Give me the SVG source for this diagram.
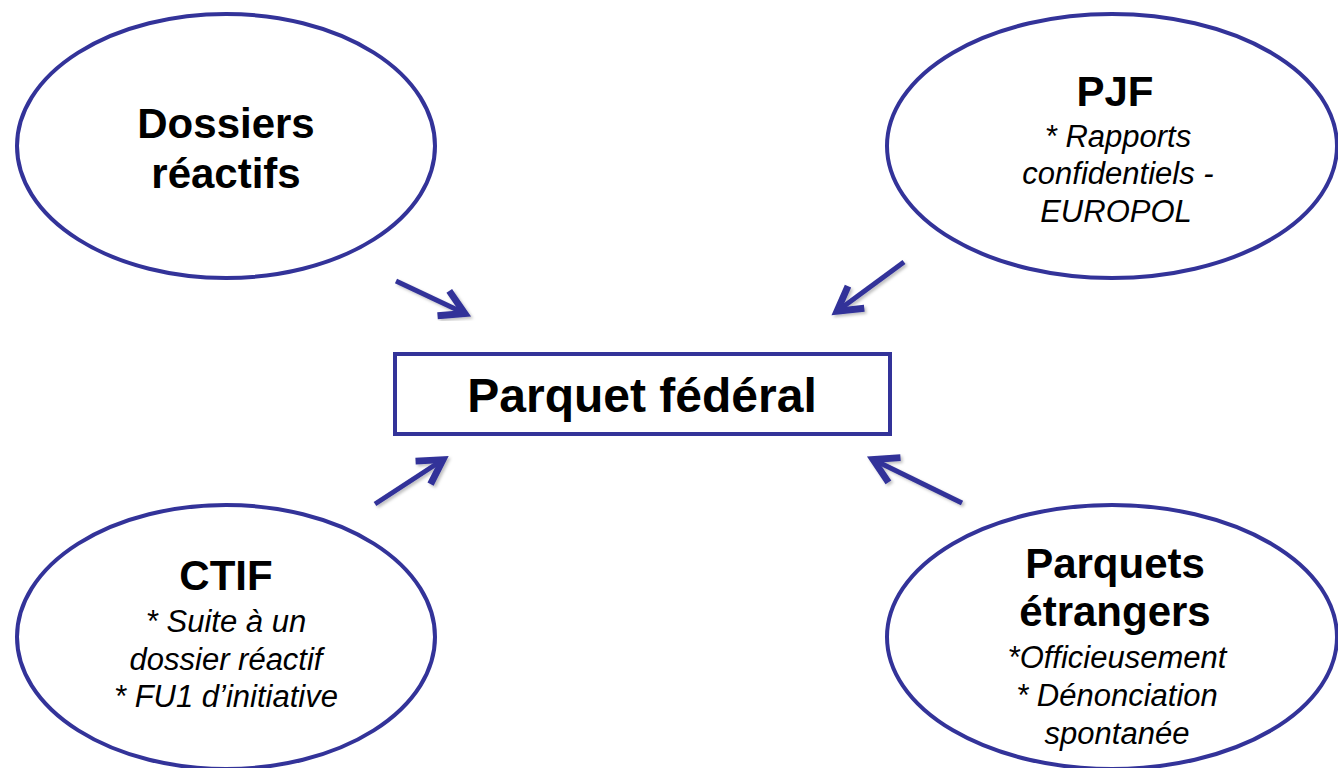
<svg xmlns="http://www.w3.org/2000/svg" width="1338" height="768" viewBox="0 0 1338 768">
<defs>
<style>
.node{fill:#fff;stroke:#333399;stroke-width:4}
.t{font-family:"Liberation Sans",Arial,sans-serif;font-weight:bold;font-size:42px;fill:#000;text-anchor:middle}
.s{font-family:"Liberation Sans",Arial,sans-serif;font-style:italic;font-size:31px;fill:#000;text-anchor:middle}
.c{fill:none;stroke:#333399;stroke-width:5;marker-end:url(#ah);filter:url(#sh)}
</style>
<marker id="ah" markerUnits="userSpaceOnUse" markerWidth="40" markerHeight="40" viewBox="-26 -16 32 32" refX="0" refY="0" orient="auto" overflow="visible">
<path d="M-20,-11 L-1,0 L-20,11" fill="none" stroke="#333399" stroke-width="5.5" stroke-linejoin="miter"/>
</marker>
<filter id="sh" x="-20%" y="-20%" width="140%" height="140%">
<feDropShadow dx="2" dy="2" stdDeviation="1.5" flood-color="#000" flood-opacity="0.25"/>
</filter>
</defs>
<g id="connectors">
<line class="c" x1="396" y1="281" x2="466" y2="314"/>
<line class="c" x1="904" y1="262" x2="836" y2="312"/>
<line class="c" x1="375" y1="504" x2="444" y2="459"/>
<line class="c" x1="962" y1="503" x2="872" y2="459"/>
</g>
<g id="dossiers">
<ellipse class="node" cx="226" cy="146" rx="209" ry="132"/>
<text class="t" x="226" y="138">Dossiers</text>
<text class="t" x="226" y="188">réactifs</text>
</g>
<g id="pjf">
<ellipse class="node" cx="1112" cy="146" rx="225" ry="132"/>
<text class="t" x="1115" y="106">PJF</text>
<text class="s" x="1118" y="147">* Rapports</text>
<text class="s" x="1118" y="184">confidentiels -</text>
<text class="s" x="1116" y="222">EUROPOL</text>
</g>
<g id="parquet">
<rect class="node" x="395" y="354" width="495" height="80"/>
<text class="t" x="642" y="412" style="font-size:48px">Parquet fédéral</text>
</g>
<g id="ctif">
<ellipse class="node" cx="226" cy="637" rx="209" ry="132"/>
<text class="t" x="226" y="590">CTIF</text>
<text class="s" x="226" y="632">* Suite à un</text>
<text class="s" x="226" y="670">dossier réactif</text>
<text class="s" x="226" y="707">* FU1 d’initiative</text>
</g>
<g id="etrangers">
<ellipse class="node" cx="1112" cy="637" rx="225" ry="132"/>
<text class="t" x="1115" y="578">Parquets</text>
<text class="t" x="1115" y="626">étrangers</text>
<text class="s" x="1117" y="668">*Officieusement</text>
<text class="s" x="1117" y="706">* Dénonciation</text>
<text class="s" x="1117" y="744">spontanée</text>
</g>
</svg>
